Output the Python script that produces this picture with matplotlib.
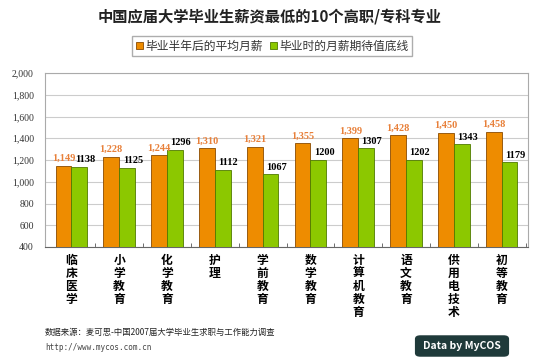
import numpy as np
import matplotlib.pyplot as plt
from matplotlib.patches import FancyBboxPatch

plt.rcParams['font.family'] = ['Noto Sans CJK SC', 'DejaVu Sans']

majors = ["临床医学", "小学教育", "化学教育", "护理", "学前教育",
          "数学教育", "计算机教育", "语文教育", "供用电技术", "初等教育"]
avg_salary = [1149, 1228, 1244, 1310, 1321, 1355, 1399, 1428, 1450, 1458]
expect_salary = [1138, 1125, 1296, 1112, 1067, 1200, 1307, 1202, 1343, 1179]
yticks = [400, 600, 800, 1000, 1200, 1400, 1600, 1800, 2000]

orange = "#EE8C00"
green = "#8CC800"

fig = plt.figure(figsize=(5.4, 3.63), dpi=100)
ax = fig.add_axes([45/540, 1-247/363, 483/540, 174/363])

x = np.arange(len(majors))
w = 0.33
ax.bar(x - w/2, np.array(avg_salary) - 400, w, bottom=400, color=orange,
       edgecolor="#8a4a00", linewidth=0.6, zorder=3, label="毕业半年后的平均月薪")
ax.bar(x + w/2, np.array(expect_salary) - 400, w, bottom=400, color=green,
       edgecolor="#4f7a00", linewidth=0.6, zorder=3, label="毕业时的月薪期待值底线")

for i in range(len(majors)):
    ax.text(x[i] - w/2, avg_salary[i] + 25, "{:,}".format(avg_salary[i]),
            ha="center", va="bottom", color="#E8803A", fontsize=7.5,
            family=["Liberation Serif"], fontweight="bold")
    ax.text(x[i] + w/2 + 0.12, expect_salary[i] + 25, str(expect_salary[i]),
            ha="center", va="bottom", color="black", fontsize=7.5,
            family=["Liberation Serif"], fontweight="bold")

ax.set_xlim(-0.55, len(majors) - 0.45)
ax.set_ylim(400, 2000)
ax.set_yticks(yticks)
ax.set_yticklabels(["{:,}".format(v) for v in yticks], family=["Liberation Serif"],
                   fontsize=7, color="#333333")
ax.yaxis.grid(True, color="#cccccc", linewidth=0.8, zorder=0)
ax.tick_params(axis="y", length=0, pad=8)
ax.set_xticks(x)
ax.set_xticklabels(["\n".join(m) for m in majors], fontsize=8.5, fontweight="bold",
                   va="top", linespacing=1.0)
ax.tick_params(axis="x", length=0, pad=5)
ax.set_xticks(np.arange(len(majors)) + 0.5, minor=True)
ax.tick_params(axis="x", which="minor", length=3, direction="in", color="#555555")
for s in ax.spines.values():
    s.set_color("#aaaaaa")
    s.set_linewidth(0.8)
ax.spines["bottom"].set_color("#666666")

fig.text(0.5, 1-17/363, "中国应届大学毕业生薪资最低的10个高职/专科专业", ha="center",
         va="center", fontsize=11, fontweight="bold", color="#222222")
leg = fig.legend(loc="center", bbox_to_anchor=(272/540, 1-46/363), ncol=2,
                 fontsize=8.5, frameon=True, handlelength=0.6, handleheight=0.6,
                 handletextpad=0.2, columnspacing=0.6, borderpad=0.3,
                 fancybox=False, edgecolor="#999999")
for t in leg.get_texts():
    t.set_color("#333333")

fig.text(45/540, 1-332/363, "数据来源：麦可思-中国2007届大学毕业生求职与工作能力调查",
         fontsize=6, va="center", color="#222222")
fig.text(45/540, 1-347/363, "http://www.mycos.com.cn", fontsize=5.5, va="center",
         color="#444444", family=["DejaVu Sans Mono"])
logo = FancyBboxPatch((416/540, 1-356/363), 92/540, 20/363,
                      boxstyle="round,pad=0.002,rounding_size=0.01",
                      transform=fig.transFigure, facecolor="#1f3a3a",
                      edgecolor="none")
fig.patches.append(logo)
fig.text(462/540, 1-346/363, "Data by MyCOS", ha="center", va="center",
         fontsize=7.5, fontweight="bold", color="white")

fig.savefig("out.png", dpi=100, facecolor="white")
